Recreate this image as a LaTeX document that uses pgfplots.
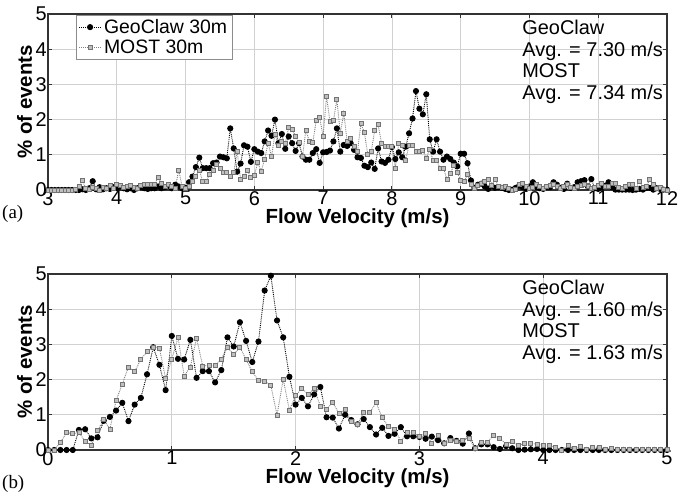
\documentclass[border=0pt]{standalone}
\usepackage{pgfplots}
\usepackage{pgfplotstable}
\pgfplotsset{compat=1.18}
\usepackage{fontspec}
\setmainfont{Liberation Sans}
\newfontfamily\seriffont{Liberation Serif}

\pgfplotstableread{
x y
3.00 0
3.05 0
3.10 0
3.15 0
3.20 0
3.25 0
3.30 0
3.35 0
3.40 0
3.45 0
3.50 0.02
3.55 0
3.60 0.05
3.65 0.25
3.70 0.02
3.75 0.08
3.80 0.02
3.85 0.05
3.90 0.03
3.95 0.08
4.00 0.05
4.05 0.10
4.10 0.05
4.15 0.02
4.20 0.05
4.25 0.00
4.30 0.05
4.35 0.08
4.40 0.05
4.45 0.03
4.50 0.05
4.55 0.05
4.60 0.10
4.65 0.05
4.70 0.08
4.75 0.12
4.80 0.05
4.85 0.15
4.90 0.10
4.95 0.05
5.00 0.06
5.05 0.22
5.10 0.38
5.15 0.65
5.20 0.92
5.25 0.62
5.30 0.62
5.35 0.62
5.40 0.76
5.45 0.78
5.50 0.95
5.55 0.93
5.60 0.90
5.65 1.75
5.70 1.18
5.75 0.52
5.80 0.75
5.85 1.27
5.90 1.23
5.95 0.80
6.00 1.16
6.05 1.09
6.10 1.05
6.15 1.38
6.20 1.69
6.25 1.54
6.30 2.00
6.35 1.33
6.40 1.59
6.45 1.17
6.50 1.52
6.55 1.33
6.60 1.11
6.65 1.33
6.70 0.95
6.75 0.86
6.80 0.86
6.85 1.05
6.90 1.16
6.95 0.77
7.00 1.07
7.05 1.08
7.10 1.12
7.15 1.38
7.20 1.75
7.25 1.09
7.30 1.28
7.35 1.25
7.40 1.33
7.45 1.14
7.50 0.93
7.55 0.91
7.60 0.69
7.65 0.65
7.70 0.78
7.75 0.60
7.80 1.18
7.85 0.81
7.90 0.77
7.95 0.86
8.00 1.22
8.05 0.88
8.10 1.07
8.15 0.93
8.20 1.23
8.25 1.61
8.30 2.03
8.35 2.81
8.40 2.31
8.45 2.15
8.50 2.72
8.55 1.44
8.60 1.09
8.65 1.44
8.70 1.09
8.75 0.86
8.80 0.95
8.85 0.88
8.90 0.78
8.95 0.67
9.00 1.03
9.05 1.03
9.10 0.76
9.15 0.27
9.20 0.06
9.25 0.15
9.30 0.18
9.35 0.10
9.40 0.03
9.45 0.12
9.50 0.06
9.55 0.08
9.60 0.06
9.65 0.03
9.70 0.00
9.75 0.01
9.80 0.06
9.85 0.12
9.90 0.08
9.95 0.03
10.00 0.10
10.05 0.22
10.10 0.08
10.15 0.05
10.20 0.03
10.25 0.08
10.30 0.08
10.35 0.22
10.40 0.15
10.45 0.06
10.50 0.03
10.55 0.18
10.60 0.06
10.65 0.08
10.70 0.22
10.75 0.25
10.80 0.28
10.85 0.10
10.90 0.31
10.95 0.05
11.00 0.03
11.05 0.08
11.10 0.12
11.15 0.22
11.20 0.08
11.25 0.01
11.30 0.01
11.35 0.01
11.40 0.01
11.45 0.01
11.50 0.00
11.55 0.01
11.60 0.03
11.65 0.01
11.70 0.06
11.75 0.06
11.80 0.01
11.85 0.05
11.90 0.03
11.95 0.01
12.00 0.01
}\geoA

\pgfplotstableread{
x y
3.00 0
3.05 0
3.10 0
3.15 0
3.20 0
3.25 0
3.30 0
3.35 0
3.40 0.02
3.45 0.10
3.50 0.26
3.55 0.05
3.60 0.02
3.65 0.08
3.70 0.05
3.75 0.00
3.80 0.08
3.85 0.05
3.90 0.12
3.95 0.05
4.00 0.15
4.05 0.12
4.10 0.08
4.15 0.10
4.20 0.12
4.25 0.08
4.30 0.05
4.35 0.12
4.40 0.15
4.45 0.15
4.50 0.15
4.55 0.15
4.60 0.36
4.65 0.18
4.70 0.10
4.75 0.15
4.80 0.10
4.85 0.05
4.90 0.57
4.95 0.10
5.00 0.05
5.05 0.10
5.10 0.25
5.15 0.40
5.20 0.55
5.25 0.25
5.30 0.25
5.35 0.45
5.40 0.55
5.45 0.72
5.50 0.62
5.55 0.50
5.60 0.50
5.65 0.38
5.70 0.50
5.75 1.10
5.80 0.30
5.85 0.40
5.90 0.55
5.95 0.35
6.00 0.41
6.05 0.78
6.10 0.53
6.15 0.88
6.20 1.33
6.25 0.95
6.30 1.59
6.35 1.28
6.40 1.38
6.45 1.33
6.50 1.78
6.55 1.72
6.60 1.52
6.65 1.35
6.70 0.95
6.75 1.70
6.80 1.38
6.85 1.35
6.90 1.97
6.95 2.06
7.00 1.52
7.05 2.66
7.10 1.94
7.15 1.97
7.20 2.57
7.25 1.61
7.30 2.19
7.35 1.38
7.40 1.47
7.45 1.25
7.50 1.09
7.55 1.89
7.60 1.63
7.65 1.00
7.70 1.09
7.75 1.69
7.80 1.85
7.85 1.33
7.90 1.23
7.95 1.25
8.00 1.25
8.05 0.62
8.10 1.33
8.15 1.28
8.20 0.84
8.25 1.28
8.30 1.28
8.35 1.09
8.40 1.09
8.45 1.12
8.50 0.91
8.55 1.14
8.60 0.84
8.65 0.84
8.70 0.62
8.75 0.62
8.80 0.31
8.85 0.48
8.90 0.69
8.95 0.50
9.00 0.28
9.05 0.25
9.10 0.44
9.15 0.15
9.20 0.05
9.25 0.12
9.30 0.20
9.35 0.25
9.40 0.30
9.45 0.12
9.50 0.30
9.55 0.10
9.60 0.08
9.65 0.10
9.70 0.05
9.75 0.00
9.80 0.03
9.85 0.15
9.90 0.20
9.95 0.10
10.00 0.05
10.05 0.08
10.10 0.15
10.15 0.10
10.20 0.05
10.25 0.10
10.30 0.12
10.35 0.15
10.40 0.10
10.45 0.05
10.50 0.10
10.55 0.15
10.60 0.08
10.65 0.05
10.70 0.10
10.75 0.12
10.80 0.15
10.85 0.10
10.90 0.05
10.95 0.08
11.00 0.12
11.05 0.18
11.10 0.10
11.15 0.10
11.20 0.18
11.25 0.20
11.30 0.08
11.35 0.05
11.40 0.10
11.45 0.15
11.50 0.15
11.55 0.05
11.60 0.25
11.65 0.08
11.70 0.10
11.75 0.30
11.80 0.15
11.85 0.05
11.90 0.08
11.95 0.02
12.00 0.00
}\mostA

\pgfplotstableread{
x y
0.00 0
0.05 0
0.10 0
0.15 0
0.20 0
0.25 0.57
0.30 0.59
0.35 0.33
0.40 0.36
0.45 0.83
0.50 0.94
0.55 1.12
0.60 1.34
0.65 0.82
0.70 1.29
0.75 1.48
0.80 2.15
0.85 2.92
0.90 2.42
0.95 1.70
1.00 3.24
1.05 2.59
1.10 2.57
1.15 3.13
1.20 2.05
1.25 2.24
1.30 2.24
1.35 1.92
1.40 2.27
1.45 3.20
1.50 2.94
1.55 3.63
1.60 3.10
1.65 2.50
1.70 3.08
1.75 4.53
1.80 4.95
1.85 3.68
1.90 3.20
1.95 2.08
2.00 1.29
2.05 1.48
2.10 1.24
2.15 1.58
2.20 1.79
2.25 0.93
2.30 0.92
2.35 0.61
2.40 1.00
2.45 0.85
2.50 0.73
2.55 0.88
2.60 0.65
2.65 0.44
2.70 0.63
2.75 0.40
2.80 0.46
2.85 0.65
2.90 0.39
2.95 0.39
3.00 0.37
3.05 0.32
3.10 0.38
3.15 0.28
3.20 0.19
3.25 0.34
3.30 0.26
3.35 0.18
3.40 0.47
3.45 0.05
3.50 0.16
3.55 0.16
3.60 0.08
3.65 0.03
3.70 0.11
3.75 0.05
3.80 0.00
3.85 0.01
3.90 0.02
3.95 0.03
4.00 0.00
4.05 0.00
4.10 0.00
4.15 0.00
4.20 0.00
4.25 0.00
4.30 0.00
4.35 0.00
4.40 0.00
4.45 0.00
4.50 0.00
4.55 0.00
4.60 0.00
4.65 0.00
4.70 0.00
4.75 0.00
4.80 0.00
4.85 0.00
4.90 0.00
4.95 0.00
5.00 0.00
}\geoB

\pgfplotstableread{
x y
0.00 0
0.05 0
0.10 0.21
0.15 0.50
0.20 0.46
0.25 0.50
0.30 0.24
0.35 0.14
0.40 0.55
0.45 0.86
0.50 0.59
0.55 1.41
0.60 1.87
0.65 2.36
0.70 2.22
0.75 2.58
0.80 2.79
0.85 2.92
0.90 2.90
0.95 2.03
1.00 2.58
1.05 3.20
1.10 2.10
1.15 2.36
1.20 3.18
1.25 2.38
1.30 2.41
1.35 2.39
1.40 2.58
1.45 2.92
1.50 2.71
1.55 2.92
1.60 2.57
1.65 2.22
1.70 1.98
1.75 1.95
1.80 1.84
1.85 0.99
1.90 2.01
1.95 1.13
2.00 1.54
2.05 1.76
2.10 1.58
2.15 1.75
2.20 1.25
2.25 1.16
2.30 1.35
2.35 1.04
2.40 1.16
2.45 0.82
2.50 0.73
2.55 1.08
2.60 1.07
2.65 1.34
2.70 0.92
2.75 0.66
2.80 0.59
2.85 0.25
2.90 0.50
2.95 0.49
3.00 0.38
3.05 0.47
3.10 0.19
3.15 0.41
3.20 0.18
3.25 0.28
3.30 0.25
3.35 0.28
3.40 0.33
3.45 0.05
3.50 0.23
3.55 0.23
3.60 0.42
3.65 0.33
3.70 0.17
3.75 0.24
3.80 0.13
3.85 0.20
3.90 0.18
3.95 0.17
4.00 0.12
4.05 0.12
4.10 0.08
4.15 0.00
4.20 0.12
4.25 0.05
4.30 0.10
4.35 0.02
4.40 0.08
4.45 0.08
4.50 0.03
4.55 0.05
4.60 0.02
4.65 0.01
4.70 0.01
4.75 0.01
4.80 0.01
4.85 0.01
4.90 0.01
4.95 0.01
5.00 0.01
}\mostB

\pgfplotsset{
  myax/.style={
    scale only axis, width=619bp, height=176bp,
    ymin=0, ymax=5, ytick={0,1,2,3,4,5},
    grid=major,
    major grid style={draw=black!18, line width=0.7bp},
    axis line style={draw=black!80, line width=1.1bp},
    tick align=inside, major tick length=4bp,
    tick style={draw=black!80, line width=0.9bp},
    tick label style={font=\fontsize{20}{22}\selectfont},
    /pgf/number format/assume math mode=true,
    xticklabel style={inner sep=1bp},
    yticklabel style={inner sep=1bp},
    label style={font=\bfseries\fontsize{20.5}{24}\selectfont, inner sep=0pt},
    xlabel style={at={(axis description cs:0.5,-0.193)}, anchor=base},
    ylabel style={at={(axis description cs:-0.026,0.5)}, anchor=base},
    ylabel={\% of events},
    xlabel={Flow Velocity (m/s)},
    clip=false,
  },
  geo/.style={black, densely dotted, line width=0.9bp, mark=*, mark size=2.6bp,
    mark options={solid, fill=black, draw=black}},
  most/.style={black!50, densely dotted, line width=0.9bp, mark=square*, mark size=2bp,
    mark options={solid, fill=black!25, draw=black!55, line width=0.8bp}},
}

\begin{document}
\begin{tikzpicture}
\useasboundingbox (0,0) rectangle (690bp,496bp);
\begin{axis}[myax, at={(48bp,306bp)}, anchor=south west,
  xmin=3, xmax=12, xtick={3,4,5,6,7,8,9,10,11,12},
  legend style={at={(axis description cs:0.045,0.994)}, anchor=north west,
    font=\fontsize{19.5}{22}\selectfont, draw=black!45, line width=0.6bp,
    inner xsep=2.5bp, inner ysep=1.5bp, row sep=0bp, cells={anchor=west},
    nodes={inner sep=2.5bp}},
  legend image code/.code={\draw[mark repeat=2,mark phase=2,#1] plot coordinates {(0bp,0bp)(11bp,0bp)(22bp,0bp)};},
]
\addplot[geo] table[x=x,y=y] {\geoA};
\addlegendentry{GeoClaw 30m}
\addplot[most] table[x=x,y=y] {\mostA};
\addlegendentry{MOST 30m}
\node[anchor=north west, inner sep=0, align=left, font=\fontsize{20}{21.7}\selectfont]
  at (axis description cs:0.766,0.966) {GeoClaw\\Avg. = 7.30 m/s\\MOST\\Avg. = 7.34 m/s};
\end{axis}
\begin{axis}[myax, at={(48bp,46bp)}, anchor=south west,
  xmin=0, xmax=5, xtick={0,1,2,3,4,5},
]
\addplot[geo] table[x=x,y=y] {\geoB};
\addplot[most] table[x=x,y=y] {\mostB};
\node[anchor=north west, inner sep=0, align=left, font=\fontsize{20}{21.7}\selectfont]
  at (axis description cs:0.766,0.966) {GeoClaw\\Avg. = 1.60 m/s\\MOST\\Avg. = 1.63 m/s};
\end{axis}
\node[anchor=base west, inner sep=0, font=\seriffont\fontsize{19}{22}\selectfont] at (2bp,277bp) {(a)};
\node[anchor=base west, inner sep=0, font=\seriffont\fontsize{19}{22}\selectfont] at (2bp,8bp) {(b)};
\end{tikzpicture}
\end{document}
